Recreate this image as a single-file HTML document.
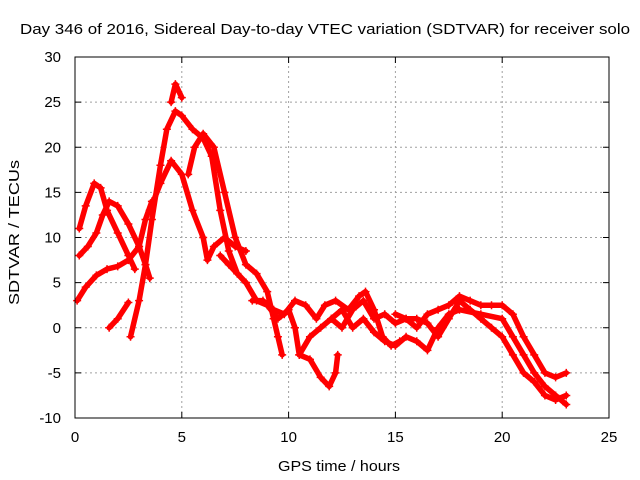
<!DOCTYPE html>
<html><head><meta charset="utf-8"><style>
body{margin:0;background:#fff;}
svg{display:block;font-family:"Liberation Sans",sans-serif;}
</style></head><body>
<svg id="chart" width="640" height="480">
<rect width="640" height="480" fill="#fff"/>
<g id="grid"></g>
<g id="series"></g>
<rect x="75" y="57" width="534" height="361" fill="none" stroke="#000" stroke-width="1"/>
<g id="axes"></g>
<text x="20" y="34" font-size="15" textLength="610" lengthAdjust="spacingAndGlyphs">Day 346 of 2016, Sidereal Day-to-day VTEC variation (SDTVAR) for receiver solo</text>
<text x="278" y="471" font-size="15" textLength="122" lengthAdjust="spacingAndGlyphs">GPS time / hours</text>
<text transform="translate(19,305) rotate(-90)" font-size="15" textLength="145" lengthAdjust="spacingAndGlyphs">SDTVAR / TECUs</text>
</svg>
<script>
const xTicks=[0,5,10,15,20,25];
const yTicks=[-10,-5,0,5,10,15,20,25,30];
const trackA=[[0.2,11],[0.5,13.5],[0.9,16],[1.2,15.5],[1.5,13],[2,10.5],[2.5,8],[2.8,6.5]];
const trackB=[[0.2,8],[0.6,9],[1,10.5],[1.3,12.5],[1.6,14],[2,13.5],[2.5,11.5],[3,9],[3.3,7],[3.5,5.5]];
const trackC=[[0.1,3],[0.5,4.5],[1,5.8],[1.5,6.5],[2,6.8],[2.5,7.5],[3,9],[3.3,12],[3.6,14]];
const trackD=[[1.6,0],[2,1],[2.5,2.8]];
const trackE=[[2.6,-1],[3,3],[3.3,7],[3.6,12],[4,18],[4.3,22],[4.7,24],[5,23.5],[5.5,22],[6,21],[6.4,19],[6.8,13],[7.2,8.5],[7.6,6],[8,5]];
const trackE2=[[4.5,25],[4.7,27],[5,25.5]];
const trackF=[[3.5,13],[4,16],[4.5,18.5],[5,17],[5.5,13],[6,10],[6.2,7.5],[6.5,9],[7,10],[7.5,9],[8,8.5]];
const trackG=[[5.3,17],[5.6,20],[6,21.5],[6.5,20],[7,15],[7.5,10],[8,7],[8.5,6],[9,4],[9.3,1],[9.5,-1],[9.7,-3]];
const trackH=[[6.8,8],[7.2,7],[7.6,6],[8,5],[8.5,3],[9,2.5],[9.5,1],[10,2],[10.3,0],[10.5,-3],[11,-3.5],[11.5,-5.5],[11.9,-6.5],[12.2,-5],[12.3,-3]];
const trackI=[[8.3,3],[8.8,3],[9.3,2],[9.8,1.5],[10.3,3],[10.8,2.5],[11.3,1],[11.7,2.5],[12.2,3],[12.8,2],[13.3,3.5],[13.6,4],[14,2],[14.4,-1],[14.8,-2],[15.2,-1.5]];
const trackJ=[[10.5,-3],[11,-1],[11.5,0],[12,1],[12.5,0],[13,2],[13.5,3],[14,1],[14.5,1.5],[15,0.5],[15.5,1],[16,0],[16.5,1.5],[17,2],[17.5,2.5],[18,3.5],[18.5,3],[19,2.5],[19.5,2.5],[20,2.5],[20.5,1.5],[21,-1],[21.5,-3],[22,-5],[22.5,-5.5],[23,-5]];
const trackK=[[12,1],[12.5,2],[13,0],[13.5,1],[14,-0.5],[14.5,-1.5],[15,-2],[15.5,-1],[16,-1.5],[16.5,-2.5],[17,0],[17.5,1.5],[18,2],[19,1.5],[20,1],[20.5,-1],[21,-3],[21.5,-5],[22,-6.5],[22.5,-7.5],[23,-8.5]];
const trackL=[[15,1.5],[15.5,1],[16,1],[16.5,0.5],[17,-1],[17.5,1],[18,3],[18.5,2],[19,1],[19.5,0],[20,-1],[20.5,-3],[21,-5],[21.5,-6],[22,-7.5],[22.5,-8],[23,-7.5]];
const tracks=[trackA,trackB,trackC,trackD,trackE,trackE2,trackF,trackG,trackH,trackI,trackJ,trackK,trackL];

const NS="http://www.w3.org/2000/svg";
const X0=75,X1=609,Y0=418,Y1=57;
const xs=v=>X0+(v-0)/25*(X1-X0);
const ys=v=>Y0-(v+10)/40*(Y0-Y1);
function mk(tag,attrs,parent){const e=document.createElementNS(NS,tag);for(const k in attrs)e.setAttribute(k,attrs[k]);parent.appendChild(e);return e;}
const grid=document.getElementById('grid'),axes=document.getElementById('axes'),ser=document.getElementById('series');
xTicks.forEach(t=>{const x=xs(t);
 if(t>0&&t<25){const l=mk('line',{x1:x,x2:x,y1:Y0,y2:Y1,stroke:'#a0a0a0','stroke-dasharray':'2,3'},grid);
 
 }
 mk('line',{x1:x,x2:x,y1:Y0,y2:Y0-6,stroke:'#000'},axes);
 mk('line',{x1:x,x2:x,y1:Y1,y2:Y1+6,stroke:'#000'},axes);
 const tx=mk('text',{x:x,y:Y0+24,'text-anchor':'middle','font-size':'15'},axes);tx.textContent=t;
 
 
});
yTicks.forEach(t=>{const y=ys(t);
 if(t>-10&&t<30){const l=mk('line',{x1:X0,x2:X1,y1:y,y2:y,stroke:'#a0a0a0','stroke-dasharray':'2,3'},grid);
 
 }
 mk('line',{x1:X0,x2:X0+6,y1:y,y2:y,stroke:'#000'},axes);
 mk('line',{x1:X1,x2:X1-6,y1:y,y2:y,stroke:'#000'},axes);
 const tx=mk('text',{x:X0-14,y:y+5,'text-anchor':'end','font-size':'15'},axes);tx.textContent=t;
 
 
});
tracks.forEach((tr,i)=>{
 const pl=mk('polyline',{points:tr.map(p=>xs(p[0])+','+ys(p[1])).join(' '),fill:'none',stroke:'#f00','stroke-width':'5.5','stroke-linejoin':'round','stroke-linecap':'round'},ser);
 
 
 tr.forEach(p=>{const x=xs(p[0]),y=ys(p[1]);
  const m=mk('path',{d:`M${x-4},${y}H${x+4}M${x},${y-4}V${y+4}`,stroke:'#f00','stroke-width':'1.5'},ser);
  
  
 });
});
</script>
</body></html>
